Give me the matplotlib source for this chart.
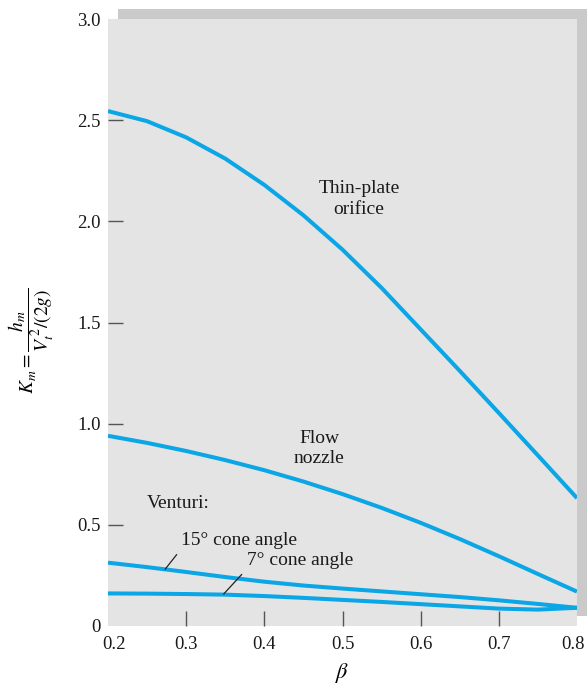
import matplotlib
matplotlib.use('Agg')
import matplotlib.pyplot as plt
from matplotlib.patches import Rectangle
from matplotlib.transforms import ScaledTranslation

plt.rcParams['font.family'] = ['Liberation Serif', 'DejaVu Serif']
plt.rcParams['mathtext.fontset'] = 'stix'

# beta values and Km curves
beta = [0.20, 0.25, 0.30, 0.35, 0.40, 0.45, 0.50, 0.55, 0.60, 0.65, 0.70, 0.75, 0.80]
k_orifice = [2.545, 2.495, 2.415, 2.31, 2.18, 2.03, 1.86, 1.671, 1.466, 1.261, 1.053, 0.843, 0.632]
k_nozzle = [0.94, 0.905, 0.865, 0.82, 0.77, 0.714, 0.652, 0.584, 0.51, 0.43, 0.345, 0.257, 0.17]
k_venturi15 = [0.313, 0.291, 0.267, 0.242, 0.219, 0.200, 0.185, 0.171, 0.157, 0.143, 0.127, 0.109, 0.09]
k_venturi7 = [0.161, 0.16, 0.158, 0.155, 0.148, 0.139, 0.129, 0.119, 0.108, 0.097, 0.086, 0.081, 0.09]

x_ticks = [0.2, 0.3, 0.4, 0.5, 0.6, 0.7, 0.8]
x_labels = ['0.2', '0.3', '0.4', '0.5', '0.6', '0.7', '0.8']
y_ticks = [0, 0.5, 1.0, 1.5, 2.0, 2.5, 3.0]
y_labels = ['0', '0.5', '1.0', '1.5', '2.0', '2.5', '3.0']

W, H = 587, 684
fig = plt.figure(figsize=(W / 100, H / 100), dpi=100)
L, R, T, B = 108, 577, 19, 626
ax = fig.add_axes([L / W, 1 - B / H, (R - L) / W, (B - T) / H])
ax.set_zorder(1)
ax.set_facecolor('#e4e4e4')

# drop shadow behind the plot area
shadow = Rectangle(((L + 10) / W, 1 - (B - 10) / H), (R - L) / W, (B - T) / H,
                   transform=fig.transFigure, facecolor='#cacaca',
                   edgecolor='none', zorder=0.5)
fig.patches.append(shadow)

blue = '#0aa6e6'
for k in [k_orifice, k_nozzle, k_venturi15, k_venturi7]:
    ax.plot(beta, k, color=blue, lw=2.9, solid_capstyle='butt',
            solid_joinstyle='round')

ax.set_xlim(0.2, 0.8)
ax.set_ylim(0, 3.0)
for s in ax.spines.values():
    s.set_visible(False)

ax.set_xticks(x_ticks)
ax.set_xticklabels(x_labels)
ax.set_yticks(y_ticks)
ax.set_yticklabels(y_labels)
ax.tick_params(direction='in', length=11, width=1, color='#555555',
               labelsize=13.5, labelcolor='#1a1a1a')
ax.tick_params(axis='x', pad=7)
ax.tick_params(axis='y', pad=5)
for t in [ax.xaxis.get_major_ticks()[0], ax.xaxis.get_major_ticks()[-1],
          ax.yaxis.get_major_ticks()[0], ax.yaxis.get_major_ticks()[-1]]:
    t.tick1line.set_visible(False)

# end labels sit a little inward, like the original
xl = ax.get_xticklabels()
xl[0].set_transform(xl[0].get_transform() + ScaledTranslation(4 / 72, 0, fig.dpi_scale_trans))
xl[-1].set_transform(xl[-1].get_transform() + ScaledTranslation(-3 / 72, 0, fig.dpi_scale_trans))

ax.set_xlabel(r'$\beta$', fontsize=16)
ax.xaxis.set_label_coords(0.5, -0.058)
ax.set_ylabel(r'$K_m = \dfrac{h_m}{V_t^{\,2}/(2g)}$', fontsize=14)
ax.yaxis.set_label_coords(-0.11, 0.47)

tc = '#1a1a1a'
ax.text(0.521, 2.11, 'Thin-plate\norifice', ha='center', va='center',
        fontsize=14, color=tc, linespacing=1.25)
ax.text(0.47, 0.877, 'Flow\nnozzle', ha='center', va='center',
        fontsize=14, color=tc, linespacing=1.25)
ax.text(0.25, 0.607, 'Venturi:', ha='left', va='center', fontsize=14, color=tc)

ax.annotate('15° cone angle', xy=(0.273, 0.28), xytext=(0.294, 0.425),
            ha='left', va='center', fontsize=14, color=tc,
            arrowprops=dict(arrowstyle='-', color='#222222', lw=0.9,
                            shrinkA=3, shrinkB=0, relpos=(0, 0)))
ax.annotate('7° cone angle', xy=(0.348, 0.158), xytext=(0.378, 0.326),
            ha='left', va='center', fontsize=14, color=tc,
            arrowprops=dict(arrowstyle='-', color='#222222', lw=0.9,
                            shrinkA=3, shrinkB=0, relpos=(0, 0)))

fig.savefig('out.png', dpi=100)
